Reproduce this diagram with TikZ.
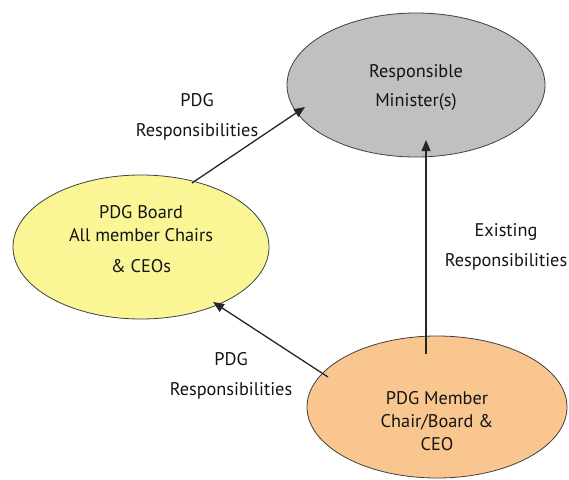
\documentclass[tikz,border=0pt]{standalone}
\usepackage{fontspec}
\setmainfont{PT Sans}
\usetikzlibrary{shapes.geometric,arrows.meta,calc}
\definecolor{minfill}{RGB}{192,192,192}
\definecolor{boardfill}{RGB}{250,246,150}
\definecolor{memfill}{RGB}{250,198,144}
\definecolor{edgecol}{RGB}{64,64,64}
\definecolor{txtcol}{RGB}{20,20,20}
\tikzset{
  bubble/.style={ellipse, draw=edgecol, line width=0.8pt, inner sep=0pt},
  bubtext/.style={align=center, text=txtcol, font=\fontsize{18.3}{23}\selectfont},
  lbl/.style={align=center, text=txtcol, font=\fontsize{18.3}{30}\selectfont},
  conn/.style={line width=1.3pt, draw=black!85, -{Triangle[length=11pt,width=9pt]}}
}
\begin{document}
\begin{tikzpicture}[x=1pt,y=-1pt]
\useasboundingbox (0,0) rectangle (569,479);
\node[bubble, fill=minfill, minimum width=258pt, minimum height=144pt,
  label={[bubtext, font=\fontsize{18.3}{29}\selectfont, yshift=-3pt]center:Responsible\\Minister(s)}] (mini) at (416,85) {};
\node[bubble, fill=boardfill, minimum width=256pt, minimum height=144pt,
  label={[bubtext, yshift=8pt]center:PDG Board\\All member Chairs\\[8pt]\& CEOs}] (board) at (141,247) {};
\node[bubble, fill=memfill, minimum width=260pt, minimum height=142pt,
  label={[bubtext, yshift=-14pt]center:PDG Member\\Chair/Board \&\\CEO}] (member) at (437,407) {};
\node[lbl] (l1) at (197,117) {PDG\\Responsibilities};
\node[lbl] (l2) at (506,247) {Existing\\Responsibilities};
\node[lbl] (l3) at (231,376) {PDG\\Responsibilities};
\draw[conn] ($(board.center)+(51,-64)$) -- ($(mini.center)+(-111,22)$);
\draw[conn] ($(member.center)+(-11,-53)$) -- ($(mini.center)+(10,55)$);
\draw[conn] ($(member.center)+(-109,-30)$) -- ($(board.center)+(72,55)$);
\end{tikzpicture}
\end{document}
